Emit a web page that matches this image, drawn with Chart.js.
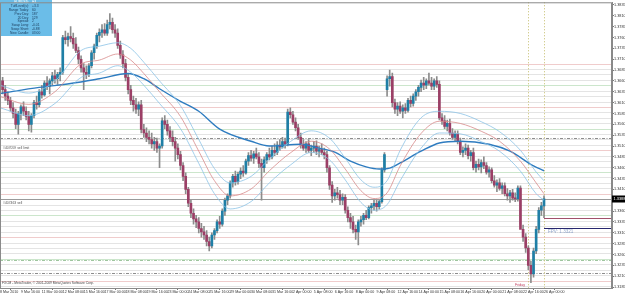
<!DOCTYPE html>
<html>
<head>
<meta charset="utf-8">
<script src="https://cdn.jsdelivr.net/npm/chart.js@4.4.1/dist/chart.umd.min.js"></script>
<style>
  html, body { margin: 0; padding: 0; background: #fff; }
  #chart { display: block; }
</style>
</head>
<body>
<canvas id="chart" width="625" height="296"></canvas>
<script>
// EURUSD H4, 8 Mar 2010 08:00 .. 26 Apr 2010 00:00 (one value per bar)
const opens = [
  1.3650,1.3660,1.3640,1.3625,1.3615,1.3598,1.3585,1.3560,1.3585,1.3600,
  1.3590,1.3578,1.3560,1.3580,1.3610,1.3605,1.3635,1.3628,1.3655,1.3648,
  1.3660,1.3672,1.3665,1.3675,1.3680,1.3760,1.3755,1.3762,1.3758,1.3745,
  1.3730,1.3710,1.3690,1.3680,1.3675,1.3695,1.3725,1.3740,1.3765,1.3772,
  1.3778,1.3770,1.3790,1.3795,1.3778,1.3770,1.3742,1.3720,1.3700,1.3668,
  1.3640,1.3615,1.3605,1.3595,1.3605,1.3548,1.3540,1.3530,1.3525,1.3515,
  1.3520,1.3505,1.3510,1.3568,1.3560,1.3545,1.3530,1.3520,1.3505,1.3490,
  1.3465,1.3440,1.3410,1.3378,1.3355,1.3342,1.3335,1.3320,1.3312,1.3305,
  1.3290,1.3280,1.3305,1.3315,1.3335,1.3330,1.3360,1.3385,1.3395,1.3425,
  1.3440,1.3428,1.3445,1.3452,1.3448,1.3475,1.3488,1.3482,1.3492,1.3485,
  1.3470,1.3460,1.3478,1.3490,1.3485,1.3500,1.3495,1.3512,1.3508,1.3520,
  1.3515,1.3588,1.3582,1.3565,1.3552,1.3530,1.3512,1.3505,1.3515,1.3500,
  1.3505,1.3510,1.3498,1.3502,1.3495,1.3490,1.3460,1.3420,1.3395,1.3402,
  1.3398,1.3385,1.3392,1.3362,1.3345,1.3335,1.3318,1.3312,1.3335,1.3340,
  1.3350,1.3345,1.3368,1.3372,1.3378,1.3370,1.3382,1.3455,1.3640,1.3665,
  1.3670,1.3610,1.3595,1.3602,1.3590,1.3598,1.3592,1.3615,1.3608,1.3625,
  1.3635,1.3645,1.3655,1.3650,1.3660,1.3655,1.3648,1.3660,1.3652,1.3575,
  1.3568,1.3555,1.3562,1.3540,1.3530,1.3538,1.3520,1.3495,1.3500,1.3505,
  1.3488,1.3495,1.3460,1.3468,1.3462,1.3472,1.3465,1.3450,1.3455,1.3430,
  1.3420,1.3425,1.3412,1.3418,1.3400,1.3395,1.3402,1.3390,1.3388,1.3413,
  1.3318,1.3300,1.3275,1.3235,1.3215,1.3268,1.3318,1.3362,1.3372
];
const highs = [
  1.3665,1.3668,1.3650,1.3635,1.3622,1.3610,1.3595,1.3590,1.3605,1.3612,
  1.3600,1.3590,1.3585,1.3615,1.3625,1.3640,1.3650,1.3660,1.3670,1.3665,
  1.3680,1.3685,1.3680,1.3690,1.3765,1.3775,1.3770,1.3785,1.3770,1.3760,
  1.3738,1.3718,1.3700,1.3695,1.3700,1.3730,1.3745,1.3770,1.3780,1.3790,
  1.3792,1.3800,1.3815,1.3805,1.3790,1.3780,1.3752,1.3730,1.3710,1.3675,
  1.3650,1.3625,1.3620,1.3612,1.3615,1.3560,1.3552,1.3545,1.3540,1.3530,
  1.3528,1.3515,1.3575,1.3580,1.3570,1.3555,1.3545,1.3530,1.3515,1.3498,
  1.3472,1.3448,1.3415,1.3385,1.3365,1.3350,1.3345,1.3332,1.3325,1.3315,
  1.3300,1.3310,1.3320,1.3340,1.3348,1.3365,1.3390,1.3400,1.3430,1.3445,
  1.3452,1.3450,1.3460,1.3465,1.3480,1.3495,1.3500,1.3498,1.3505,1.3495,
  1.3480,1.3485,1.3495,1.3505,1.3510,1.3515,1.3520,1.3525,1.3530,1.3528,
  1.3595,1.3598,1.3590,1.3575,1.3560,1.3540,1.3525,1.3520,1.3525,1.3512,
  1.3520,1.3522,1.3510,1.3515,1.3505,1.3498,1.3465,1.3428,1.3410,1.3415,
  1.3408,1.3400,1.3398,1.3370,1.3355,1.3348,1.3328,1.3340,1.3348,1.3355,
  1.3362,1.3372,1.3378,1.3385,1.3385,1.3385,1.3460,1.3495,1.3672,1.3685,
  1.3678,1.3618,1.3610,1.3612,1.3605,1.3608,1.3620,1.3625,1.3630,1.3640,
  1.3650,1.3662,1.3668,1.3665,1.3678,1.3668,1.3665,1.3670,1.3660,1.3585,
  1.3580,1.3570,1.3572,1.3550,1.3545,1.3545,1.3528,1.3508,1.3515,1.3512,
  1.3500,1.3505,1.3475,1.3480,1.3478,1.3485,1.3472,1.3462,1.3460,1.3442,
  1.3432,1.3435,1.3425,1.3425,1.3412,1.3408,1.3410,1.3402,1.3418,1.3418,
  1.3328,1.3308,1.3280,1.3245,1.3275,1.3325,1.3368,1.3380,1.3395
];
const lows = [
  1.3640,1.3630,1.3615,1.3605,1.3590,1.3575,1.3550,1.3537,1.3570,1.3580,
  1.3570,1.3545,1.3542,1.3575,1.3595,1.3600,1.3620,1.3625,1.3640,1.3630,
  1.3650,1.3655,1.3652,1.3660,1.3675,1.3745,1.3740,1.3750,1.3735,1.3725,
  1.3700,1.3680,1.3640,1.3665,1.3670,1.3690,1.3710,1.3735,1.3750,1.3760,
  1.3765,1.3765,1.3780,1.3770,1.3760,1.3735,1.3712,1.3690,1.3660,1.3630,
  1.3605,1.3590,1.3585,1.3580,1.3540,1.3530,1.3520,1.3515,1.3505,1.3500,
  1.3495,1.3460,1.3505,1.3550,1.3535,1.3520,1.3510,1.3475,1.3480,1.3455,
  1.3430,1.3400,1.3370,1.3345,1.3330,1.3322,1.3310,1.3300,1.3295,1.3280,
  1.3268,1.3275,1.3295,1.3310,1.3320,1.3325,1.3350,1.3375,1.3390,1.3415,
  1.3420,1.3422,1.3435,1.3440,1.3445,1.3465,1.3475,1.3470,1.3480,1.3460,
  1.3385,1.3450,1.3470,1.3478,1.3480,1.3488,1.3490,1.3500,1.3505,1.3505,
  1.3510,1.3575,1.3560,1.3545,1.3525,1.3505,1.3500,1.3495,1.3495,1.3488,
  1.3495,1.3490,1.3485,1.3490,1.3480,1.3450,1.3410,1.3380,1.3385,1.3390,
  1.3375,1.3375,1.3355,1.3335,1.3320,1.3310,1.3295,1.3282,1.3325,1.3330,
  1.3340,1.3342,1.3355,1.3362,1.3360,1.3365,1.3378,1.3450,1.3625,1.3648,
  1.3600,1.3585,1.3580,1.3585,1.3575,1.3585,1.3588,1.3600,1.3602,1.3615,
  1.3625,1.3635,1.3640,1.3642,1.3650,1.3640,1.3640,1.3645,1.3570,1.3560,
  1.3550,1.3545,1.3535,1.3525,1.3520,1.3515,1.3490,1.3485,1.3490,1.3480,
  1.3475,1.3455,1.3450,1.3455,1.3448,1.3458,1.3445,1.3438,1.3425,1.3415,
  1.3405,1.3408,1.3400,1.3395,1.3385,1.3380,1.3385,1.3382,1.3383,1.3330,
  1.3290,1.3265,1.3225,1.3195,1.3208,1.3262,1.3310,1.3350,1.3345
];
const closes = [
  1.3660,1.3640,1.3625,1.3615,1.3598,1.3585,1.3560,1.3585,1.3600,1.3590,
  1.3578,1.3560,1.3580,1.3610,1.3605,1.3635,1.3628,1.3655,1.3648,1.3660,
  1.3672,1.3665,1.3675,1.3680,1.3760,1.3755,1.3762,1.3758,1.3745,1.3730,
  1.3710,1.3690,1.3680,1.3675,1.3695,1.3725,1.3740,1.3765,1.3772,1.3778,
  1.3770,1.3790,1.3795,1.3778,1.3770,1.3742,1.3720,1.3700,1.3668,1.3640,
  1.3615,1.3605,1.3595,1.3605,1.3548,1.3540,1.3530,1.3525,1.3515,1.3520,
  1.3505,1.3510,1.3568,1.3560,1.3545,1.3530,1.3520,1.3505,1.3490,1.3465,
  1.3440,1.3410,1.3378,1.3355,1.3342,1.3335,1.3320,1.3312,1.3305,1.3290,
  1.3280,1.3305,1.3315,1.3335,1.3330,1.3360,1.3385,1.3395,1.3425,1.3440,
  1.3428,1.3445,1.3452,1.3448,1.3475,1.3488,1.3482,1.3492,1.3485,1.3470,
  1.3460,1.3478,1.3490,1.3485,1.3500,1.3495,1.3512,1.3508,1.3520,1.3515,
  1.3588,1.3582,1.3565,1.3552,1.3530,1.3512,1.3505,1.3515,1.3500,1.3505,
  1.3510,1.3498,1.3502,1.3495,1.3490,1.3460,1.3420,1.3395,1.3402,1.3398,
  1.3385,1.3392,1.3362,1.3345,1.3335,1.3318,1.3312,1.3335,1.3340,1.3350,
  1.3345,1.3368,1.3372,1.3378,1.3370,1.3382,1.3455,1.3490,1.3665,1.3670,
  1.3610,1.3595,1.3602,1.3590,1.3598,1.3592,1.3615,1.3608,1.3625,1.3635,
  1.3645,1.3655,1.3650,1.3660,1.3655,1.3648,1.3660,1.3652,1.3575,1.3568,
  1.3555,1.3562,1.3540,1.3530,1.3538,1.3520,1.3495,1.3500,1.3505,1.3488,
  1.3495,1.3460,1.3468,1.3462,1.3472,1.3465,1.3450,1.3455,1.3430,1.3420,
  1.3425,1.3412,1.3418,1.3400,1.3395,1.3402,1.3390,1.3388,1.3413,1.3318,
  1.3300,1.3275,1.3235,1.3215,1.3268,1.3318,1.3362,1.3372,1.3388
];

// indicator lines: [bar, price]
const maSlow = [[0,1.3631],[15,1.3645],[27,1.3654],[38,1.3665],[49,1.3677],[55,1.3665],[61,1.3642],
  [69,1.3613],[76,1.3590],[84,1.3549],[96,1.3521],[103,1.3510],[115,1.3514],[122,1.3505],[128,1.3496],
  [134,1.3475],[140,1.3462],[145,1.3457],[149,1.3459],[153,1.3471],[161,1.3498],[168,1.3517],
  [176,1.3521],[187,1.3514],[195,1.3498],[204,1.3464],[208,1.3453]];
const maMid = [[0,1.3624],[11,1.3606],[21,1.3635],[31,1.3699],[38,1.3708],[45,1.3722],[50,1.3708],
  [55,1.3677],[61,1.3635],[69,1.3578],[76,1.3498],[82,1.3430],[88,1.3395],[96,1.3411],[103,1.3453],
  [111,1.3494],[119,1.3521],[126,1.3503],[132,1.3457],[138,1.3407],[143,1.3389],[148,1.3402],
  [153,1.3464],[161,1.3539],[168,1.3567],[176,1.3562],[184,1.3544],[191,1.3521],[199,1.3475],
  [205,1.3425],[208,1.3400]];
const bandUp = [[0,1.3650],[11,1.3632],[21,1.3660],[31,1.3730],[38,1.3740],[45,1.3748],[50,1.3735],
  [55,1.3703],[61,1.3660],[69,1.3603],[76,1.3525],[82,1.3458],[88,1.3425],[96,1.3440],[103,1.3480],
  [111,1.3520],[119,1.3545],[126,1.3528],[132,1.3482],[138,1.3432],[143,1.3415],[148,1.3430],
  [153,1.3500],[161,1.3575],[168,1.3590],[176,1.3585],[184,1.3566],[191,1.3543],[199,1.3500],
  [205,1.3450],[208,1.3430]];
const bandDown = [[0,1.3598],[11,1.3580],[21,1.3608],[31,1.3668],[38,1.3678],[45,1.3695],[50,1.3680],
  [55,1.3650],[61,1.3608],[69,1.3550],[76,1.3470],[82,1.3400],[88,1.3365],[96,1.3382],[103,1.3425],
  [111,1.3466],[119,1.3495],[126,1.3478],[132,1.3432],[138,1.3380],[143,1.3362],[148,1.3375],
  [153,1.3430],[161,1.3505],[168,1.3540],[176,1.3538],[184,1.3520],[191,1.3498],[199,1.3452],
  [205,1.3400],[208,1.3385]];

const tickBars = [0,8,16,24,32,40,48,56,64,72,80,88,96,104,112,120,128,136,144,152,160,168,176,184,192,200,208];
const tickLabels = ['8 Mar 2010','9 Mar 16:00','11 Mar 00:00','12 Mar 08:00','15 Mar 16:00','17 Mar 00:00',
  '18 Mar 08:00','19 Mar 16:00','23 Mar 00:00','24 Mar 08:00','25 Mar 16:00','29 Mar 00:00','30 Mar 08:00',
  '31 Mar 16:00','2 Apr 00:00','5 Apr 08:00','6 Apr 16:00','8 Apr 00:00','9 Apr 08:00','12 Apr 16:00',
  '14 Apr 00:00','15 Apr 08:00','16 Apr 16:00','20 Apr 00:00','21 Apr 08:00','22 Apr 16:00','26 Apr 00:00'];
const yTicks = [1.3835,1.3810,1.3785,1.3760,1.3735,1.3710,1.3685,1.3660,1.3635,1.3610,1.3585,1.3560,
  1.3535,1.3510,1.3485,1.3460,1.3435,1.3410,1.3385,1.3360,1.3335,1.3310,1.3285,1.3260,1.3235,1.3210,1.3185];

// horizontal price levels drawn across the chart
const levels = [1.3700,1.36875,1.3675,1.36625,1.3650,1.36375,1.3625,1.36125,1.3600,1.35875,1.3575,
  1.35625,1.3550,1.35375,1.3525,1.35125,1.3500,1.34875,1.3475,1.34625,1.3450,1.34375,1.3425,1.34125,
  1.3400,1.33875,1.3375,1.33625,1.3350,1.33375,1.3325,1.33125,1.3300,1.32875,1.3275,1.32625,1.3250,
  1.32375,1.3225,1.32125,1.3200,1.31875];
const dashLevels = [1.3528, 1.3218];
const greenDashLevels = [1.3247];
const dayLines = [202, 208];
const redLevel = 1.3345;
const fpvLevel = 1.3321;

const infoRows = [['EURUSD:', 'H4'], ['TuffLevel(s):', '+3.3'], ['Range Today:', '60'], ['Prev Day:', '187'],
  ['20 Day:', '129'], ['Spread:', '2'], ['Swap Long:', '-0.01'], ['Swap Short:', '-0.88'], ['New Candle:', '03:00']];

const SLOTS = 235;
const nBars = closes.length;
const bullColor = "#1f7fa6";
const bearColor = "#9b3f66";
const fontFam = "'Liberation Sans', Arial, sans-serif";

let categories = [];
for(let i = 0; i < SLOTS; i++) categories.push(i);

let wickData = [], bodyData = [], bodyColors = [];
for(let i = 0; i < SLOTS; i++) {
    if(i < nBars) {
        wickData.push([lows[i], highs[i]]);
        bodyData.push([opens[i], closes[i]]);
        bodyColors.push(closes[i] >= opens[i] ? bullColor : bearColor);
    }
    else {
        wickData.push(null);
        bodyData.push(null);
        bodyColors.push(bullColor);
    }
}

function sparse(points) {
    let arr = new Array(SLOTS).fill(null);
    for(let p of points) arr[p[0]] = p[1];
    return arr;
}

function levelColor(v) {
    let pips = Math.round(v * 10000);
    if(Math.abs(v * 10000 - pips) > 0.1) return "#e4e4e4";
    if(pips % 100 === 0) return "#f0cccc";
    if(pips % 100 === 50) return "#cce6cc";
    return "#e4e4e4";
}

function hLine(ctx, a, py) {
    ctx.beginPath(); ctx.moveTo(a.left, py); ctx.lineTo(a.right, py); ctx.stroke();
}

const overlay = {
    id: "overlay",
    beforeDatasetsDraw(chart) {
        const {ctx, chartArea: a, scales: {x, y}} = chart;
        ctx.save();
        ctx.lineWidth = 1;
        for(let v of levels) {
            ctx.strokeStyle = levelColor(v);
            hLine(ctx, a, Math.round(y.getPixelForValue(v)) + 0.5);
        }
        ctx.lineWidth = 0.8;
        ctx.setLineDash([3, 1.5, 1, 1.5]);
        ctx.strokeStyle = "#707070";
        for(let v of dashLevels) hLine(ctx, a, Math.round(y.getPixelForValue(v)) + 0.5);
        ctx.strokeStyle = "#86b886";
        for(let v of greenDashLevels) hLine(ctx, a, Math.round(y.getPixelForValue(v)) + 0.5);
        ctx.lineWidth = 1;
        ctx.setLineDash([1, 2]);
        ctx.strokeStyle = "#c4bc6a";
        for(let b of dayLines) {
            let px = Math.round(x.getPixelForValue(b)) + 0.5;
            ctx.beginPath(); ctx.moveTo(px, a.top); ctx.lineTo(px, a.bottom); ctx.stroke();
        }
        ctx.setLineDash([]);
        // bid line
        ctx.strokeStyle = "#9a9a9a";
        hLine(ctx, a, Math.round(y.getPixelForValue(closes[nBars - 1])) + 0.5);
        // order labels
        ctx.fillStyle = "#555";
        ctx.font = "3.4px " + fontFam;
        ctx.textBaseline = "bottom";
        ctx.fillText("#407059 sell limit", 3, Math.round(y.getPixelForValue(1.3500)));
        ctx.fillText("#407463 sell", 3, Math.round(y.getPixelForValue(1.3376)) + 1);
        ctx.restore();
    },
    afterDatasetsDraw(chart) {
        const {ctx, chartArea: a, scales: {x, y}} = chart;
        ctx.save();
        let lastX = Math.round(x.getPixelForValue(nBars - 1));
        // right-hand levels
        ctx.lineWidth = 1;
        ctx.strokeStyle = "#a0506a";
        ctx.beginPath();
        let ry = Math.round(y.getPixelForValue(redLevel)) + 0.5;
        ctx.moveTo(lastX, ry); ctx.lineTo(a.right, ry); ctx.stroke();
        let fy = Math.round(y.getPixelForValue(fpvLevel)) + 0.5;
        ctx.strokeStyle = "#26266e";
        ctx.beginPath(); ctx.moveTo(lastX, fy); ctx.lineTo(a.right, fy); ctx.stroke();
        ctx.fillStyle = "#8fa3c8";
        ctx.font = "4.6px " + fontFam;
        ctx.textBaseline = "top";
        ctx.fillText("FPV: " + fpvLevel.toFixed(4), lastX + 4, fy + 1);

        // Friday marker near the low
        ctx.fillStyle = "#c04060";
        ctx.font = "3.6px " + fontFam;
        ctx.textBaseline = "middle";
        ctx.fillText("Friday", 515, a.bottom - 3);

        // info box
        ctx.fillStyle = "#6bbde8";
        ctx.fillRect(0, 0, 52, 36);
        ctx.font = "3.3px " + fontFam;
        ctx.textBaseline = "middle";
        for(let i = 0; i < infoRows.length; i++) {
            let ty = 2.5 + i * 3.8;
            ctx.fillStyle = i === 0 ? "#ffffff" : "#1b3b5a";
            ctx.textAlign = "right";
            ctx.fillText(infoRows[i][0], 29, ty);
            ctx.textAlign = "left";
            ctx.fillText(infoRows[i][1], 32, ty);
        }

        // frame
        ctx.strokeStyle = "#8a8a8a";
        ctx.strokeRect(a.left + 0.5, a.top + 0.5, a.right - a.left - 1, a.bottom - a.top);

        // copyright line
        ctx.fillStyle = "#444";
        ctx.textAlign = "left";
        ctx.font = "3.3px " + fontFam;
        ctx.fillText("FXCM - MetaTrader, \u00a9 2001-2009 MetaQuotes Software Corp.", 2, a.bottom - 5);

        // current price box on the axis
        let by = Math.round(y.getPixelForValue(closes[nBars - 1]));
        ctx.fillStyle = "#000";
        ctx.fillRect(a.right, by - 3.5, 13, 7);
        ctx.fillStyle = "#fff";
        ctx.font = "3.9px " + fontFam;
        ctx.textBaseline = "middle";
        ctx.fillText(closes[nBars - 1].toFixed(4), a.right + 1.5, by);
        ctx.restore();
    },
};

function lineSet(points, color, width) {
    return {
        type: "line",
        data: sparse(points),
        borderColor: color,
        borderWidth: width,
        pointRadius: 0,
        spanGaps: true,
        cubicInterpolationMode: "monotone",
        order: 0,
    };
}

new Chart(document.getElementById("chart"), {
    type: "bar",
    data: {
        labels: categories,
        datasets: [
            { data: wickData, backgroundColor: "#8c8c8c", barThickness: 1, grouped: false, order: 3 },
            { data: bodyData, backgroundColor: bodyColors, barThickness: 2, grouped: false, minBarLength: 1, order: 2 },
            lineSet(bandDown, "#8cc3e6", 0.8),
            lineSet(bandUp, "#8cc3e6", 0.8),
            lineSet(maMid, "#d88a8a", 0.8),
            lineSet(maSlow, "#2e7cc0", 1.4),
        ],
    },
    options: {
        responsive: false,
        animation: false,
        events: [],
        layout: { padding: 0 },
        plugins: { legend: { display: false }, tooltip: { enabled: false } },
        scales: {
            x: {
                type: "category",
                offset: false,
                afterFit(scale) { scale.height = 8; },
                grid: { display: true, drawOnChartArea: false, tickLength: 2, color: "#777" },
                border: { display: true, color: "#888" },
                ticks: {
                    autoSkip: false,
                    maxRotation: 0,
                    align: "start",
                    padding: 0,
                    color: "#333",
                    font: { family: fontFam, size: 3.6 },
                    callback(val, i) {
                        let k = tickBars.indexOf(i);
                        return k >= 0 ? tickLabels[k] : null;
                    },
                },
            },
            y: {
                position: "right",
                min: 1.31828,
                max: 1.38412,
                afterFit(scale) { scale.width = 13; },
                afterBuildTicks(scale) { scale.ticks = yTicks.map(v => ({ value: v })); },
                grid: { display: true, drawOnChartArea: false, tickLength: 2, color: "#777" },
                border: { display: true, color: "#888" },
                ticks: {
                    padding: 0,
                    color: "#333",
                    font: { family: fontFam, size: 3.8 },
                    callback(v) { return Number(v).toFixed(4); },
                },
            },
        },
    },
    plugins: [overlay],
});
</script>
</body>
</html>
